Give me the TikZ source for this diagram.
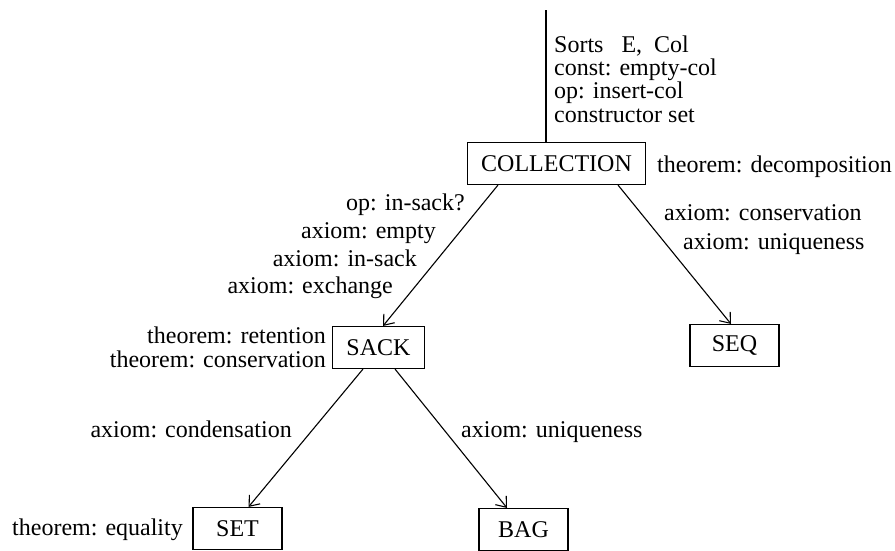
\documentclass[tikz,border=0pt]{standalone}
\usepackage{fontspec}
\setmainfont{Liberation Serif}
\usetikzlibrary{arrows.meta,positioning}
\tikzset{
  box/.style  = {draw, line width=1.1pt, minimum width=89pt, minimum height=42pt,
                 inner xsep=14pt, inner ysep=0pt},
  wire/.style = {line width=1.1pt},
  link/.style = {line width=1.1pt, -{Straight Barb[length=9pt,width=14pt]}},
  lbl/.style  = {inner sep=0pt},
}

\begin{document}
\begin{tikzpicture}[x=1pt,y=-1pt,font=\fontsize{24}{23.3}\selectfont]
  \useasboundingbox (0,0) rectangle (895,550);
  % sorts
  \node[box] (coll) at (556.5,163.5) {COLLECTION};
  \node[box] (sack) at (378.5,347.5) {SACK};
  \node[box] (seq)  at (734.5,345.5) {SEQ};
  \node[box] (set)  at (237.5,528.5) {SET};
  \node[box] (bag)  at (523.5,529.5) {BAG};
  \coordinate (root) at (546,10);
  \draw[wire] (root) -- (root |- coll.north);
  \node[lbl,anchor=north west,align=left] (sig) at (554,35.5)
    {Sorts\ \ \ E,\ \ Col\\const: empty-col\\op: insert-col\\constructor set};
  \node[lbl,anchor=base west] (decomp) at (657,172.7) {theorem: decomposition};
  % refinements
  \draw[link] ([xshift=-58.5pt]coll.south) -- ([xshift=4.5pt]sack.north);
  \draw[link] ([xshift=61.5pt]coll.south) -- ([xshift=-3.5pt]seq.north);
  \draw[link] ([xshift=-15.5pt]sack.south) -- ([xshift=11pt]set.north);
  \draw[link] ([xshift=16.5pt]sack.south) -- ([xshift=-16.5pt]bag.north);
  \node[lbl,anchor=base east] (insack) at (465,210) {op: in-sack?};
  \node[lbl,anchor=base east] (empty)  at (436,238) {axiom: empty};
  \node[lbl,anchor=base east] (axins)  at (417,266) {axiom: in-sack};
  \node[lbl,anchor=base east] (exch)   at (393,293) {axiom: exchange};
  \node[lbl,anchor=base west] (cons)   at (664,220) {axiom: conservation};
  \node[lbl,anchor=base west] (uniq)   at (683,249) {axiom: uniqueness};
  \node[lbl,anchor=base east] (ret)    at (326,343) {theorem: retention};
  \node[lbl,anchor=base east] (tcons)  at (326,367) {theorem: conservation};
  \node[lbl,anchor=base east] (cond)   at (292,437) {axiom: condensation};
  \node[lbl,anchor=base west] (buniq)  at (461,437) {axiom: uniqueness};
  \node[lbl,anchor=base east] (equal)  at (183,535) {theorem: equality};
\end{tikzpicture}
\end{document}
